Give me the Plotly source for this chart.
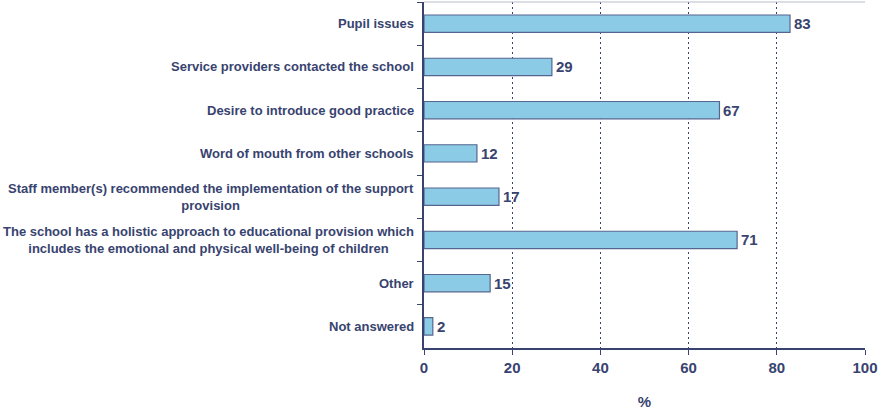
import plotly.graph_objects as go

# Reasons given by schools for introducing the support provision (% of schools)
categories = [
    "Pupil issues",
    "Service providers contacted the school",
    "Desire to introduce good practice",
    "Word of mouth from other schools",
    "Staff member(s) recommended the implementation of the support<br>provision",
    "The school has a holistic approach to educational provision which<br>includes the emotional and physical well-being of children",
    "Other",
    "Not answered",
]
values = [83, 29, 67, 12, 17, 71, 15, 2]
x_ticks = [0, 20, 40, 60, 80, 100]
x_title = "%"

NAVY = "#38436f"
FILL = "#8ccbe6"
EDGE = "#56658f"
FONT = "Arial, Liberation Sans, sans-serif"

fig = go.Figure(
    go.Bar(
        x=values,
        y=categories,
        orientation="h",
        width=0.4,
        marker=dict(color=FILL, line=dict(color=EDGE, width=1.2)),
        hoverinfo="skip",
    )
)

# Value labels just beyond the end of each bar
for cat, v in zip(categories, values):
    fig.add_annotation(
        x=v, xref="x", y=cat, yref="y",
        text=f"<b>{v}</b>",
        showarrow=False,
        xanchor="left", yanchor="middle",
        xshift=2,
        font=dict(family=FONT, size=15, color=NAVY),
    )

# Category labels as centred multi-line annotations to the left of the axis
for cat in categories:
    fig.add_annotation(
        x=0, xref="paper", y=cat, yref="y",
        text=f"<b>{cat}</b>",
        showarrow=False,
        xanchor="right", yanchor="middle", align="center",
        xshift=-8,
        font=dict(family=FONT, size=13, color=NAVY),
    )

# Thin frame line along the top of the plotting area
fig.add_shape(
    type="line", xref="paper", yref="paper",
    x0=0, x1=1, y0=1, y1=1,
    line=dict(color="#b8bdcc", width=1),
)

fig.update_layout(
    width=879, height=411,
    margin=dict(l=424, r=14, t=2, b=63),
    paper_bgcolor="white", plot_bgcolor="white",
    showlegend=False,
    bargap=0.6,
    font=dict(family=FONT, color=NAVY),
    xaxis=dict(
        range=[0, 100],
        tickvals=x_ticks,
        ticktext=[f"<b>{t}</b>" for t in x_ticks],
        tickfont=dict(family=FONT, size=15, color=NAVY),
        showgrid=True, gridcolor=NAVY, griddash="2px,3px", gridwidth=1.3,
        showline=True, linecolor=NAVY, linewidth=1.5,
        ticks="outside", ticklen=5, tickcolor=NAVY,
        zeroline=False,
        title=dict(text=f"<b>{x_title}</b>", font=dict(family=FONT, size=15, color=NAVY), standoff=22),
        fixedrange=True,
    ),
    yaxis=dict(
        autorange="reversed",
        showticklabels=False,
        tickson="boundaries",
        ticks="outside", ticklen=5, tickcolor=NAVY,
        showline=True, linecolor=NAVY, linewidth=1.5,
        showgrid=False, zeroline=False,
        fixedrange=True,
    ),
)

fig.write_html("out.html")
